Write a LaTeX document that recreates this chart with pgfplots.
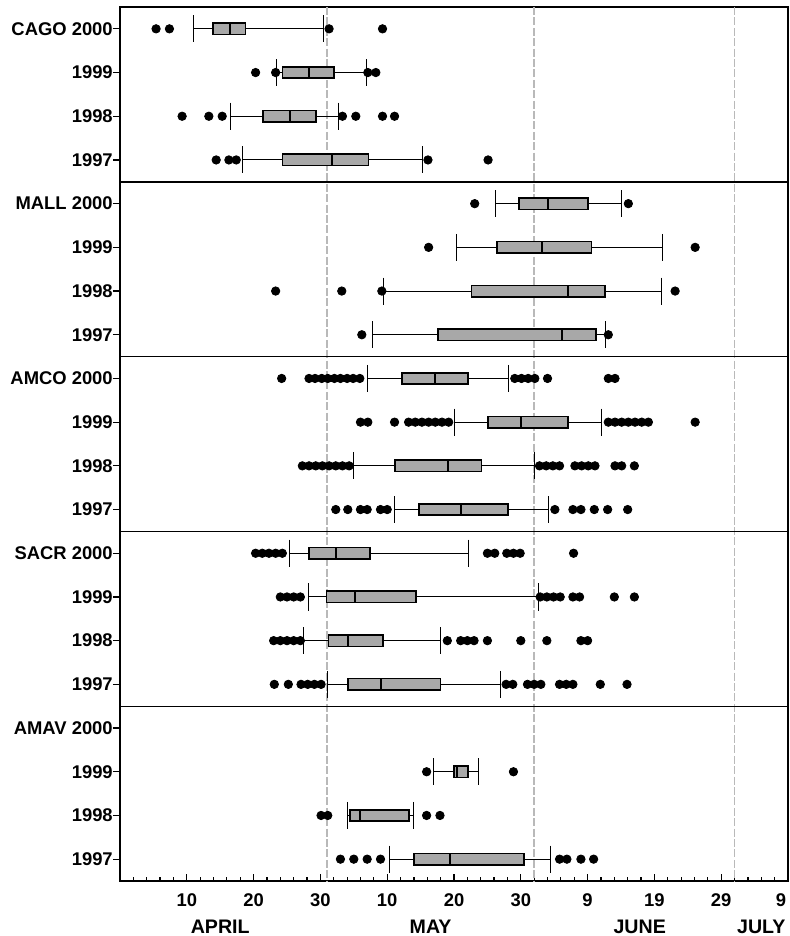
\documentclass[border=0pt]{standalone}
\usepackage{fontspec}
\setmainfont{Liberation Sans}
\usepackage{pgfplots}
\pgfplotsset{compat=1.18}
\usepgfplotslibrary{statistics}

\pgfplotsset{
  bxs/.style={black, mark=*, mark size=2.1pt,
    mark options={fill=black, draw=black, solid},
    boxplot/draw direction=x,
    boxplot/box extend=0.26,
    boxplot/whisker extend=0.62,
    boxplot/every box/.style={draw=black, fill=gray!68, line width=0.8pt},
    boxplot/every whisker/.style={black, line width=0.5pt},
    boxplot/every median/.style={black, line width=1pt}}
}
\newcommand{\bx}[7]{\addplot[bxs, boxplot prepared={draw position=#1, lower whisker=#2, lower quartile=#3, median=#4, upper quartile=#5, upper whisker=#6}] coordinates {#7};}

\begin{document}
\begin{tikzpicture}
\begin{axis}[
  scale only axis, width=334pt, height=437pt,
  xmin=0, xmax=100, ymin=-0.5, ymax=19.5, y dir=reverse,
  axis line style={line width=0.75pt},
  xtick={10,20,...,90},
  xticklabels={10,20,30,10,20,30,9,19,29},
  extra x ticks={100},
  extra x tick labels={9},
  extra x tick style={xticklabel style={xshift=-3.5pt}},
  minor xtick={0,2,...,100},
  ytick={0,...,19},
  yticklabels={CAGO 2000,1999,1998,1997,MALL 2000,1999,1998,1997,AMCO 2000,1999,1998,1997,SACR 2000,1999,1998,1997,AMAV 2000,1999,1998,1997},
  xtick pos=left, ytick pos=left,
  xtick align=inside, ytick align=outside,
  major tick length=3.6pt, minor tick length=2.1pt,
  tick style={black, line width=0.6pt},
  tick label style={font=\fontsize{9.2}{10}\selectfont\bfseries},
  xticklabel style={yshift=-3pt},
  yticklabel style={xshift=3.5pt},
  clip=false,
]
% dashed month boundaries
\draw[gray!55, line width=0.9pt, dash pattern=on 4pt off 1.2pt] (axis cs:31,-0.5) -- (axis cs:31,19.5);
\draw[gray!55, line width=0.9pt, dash pattern=on 4pt off 1.2pt] (axis cs:62,-0.5) -- (axis cs:62,19.5);
\draw[gray!55, line width=0.9pt, dash pattern=on 4pt off 1.2pt] (axis cs:92,-0.5) -- (axis cs:92,19.5);
% group separators
\draw[line width=0.7pt] (axis cs:0,3.5) -- (axis cs:100,3.5);
\draw[line width=0.7pt] (axis cs:0,7.5) -- (axis cs:100,7.5);
\draw[line width=0.7pt] (axis cs:0,11.5) -- (axis cs:100,11.5);
\draw[line width=0.7pt] (axis cs:0,15.5) -- (axis cs:100,15.5);

% CAGO
\bx{0}{11.0}{13.9}{16.4}{18.8}{30.4}{(0,5.4) (0,7.4) (0,31.3) (0,39.3)}
\bx{1}{23.5}{24.3}{28.3}{32.0}{36.9}{(0,20.3) (0,23.3) (0,37.1) (0,38.3)}
\bx{2}{16.5}{21.4}{25.4}{29.3}{32.7}{(0,9.3) (0,13.3) (0,15.3) (0,33.3) (0,35.3) (0,39.3) (0,41.1)}
\bx{3}{18.3}{24.3}{31.8}{37.2}{45.3}{(0,14.4) (0,16.3) (0,17.4) (0,46.1) (0,55.1)}
% MALL
\bx{4}{56.2}{59.7}{64.1}{70.1}{75.1}{(0,53.1) (0,76.1)}
\bx{5}{50.3}{56.4}{63.2}{70.6}{81.2}{(0,46.2) (0,86.1)}
\bx{6}{39.5}{52.6}{67.1}{72.6}{81.1}{(0,23.3) (0,33.2) (0,39.2) (0,83.1)}
\bx{7}{37.8}{47.6}{66.1}{71.3}{72.7}{(0,36.2) (0,73.1)}
% AMCO
\bx{8}{37.1}{42.2}{47.1}{52.1}{58.1}{(0,24.2) (0,28.3) (0,29.2) (0,30.2) (0,31.1) (0,32.1) (0,33.0) (0,34.0) (0,34.9) (0,35.9) (0,59.1) (0,60.1) (0,61.1) (0,62.1) (0,64.0) (0,73.1) (0,74.1)}
\bx{9}{50.1}{55.1}{60.0}{67.1}{72.1}{(0,36.0) (0,37.1) (0,41.1) (0,43.2) (0,44.2) (0,45.2) (0,46.2) (0,47.2) (0,48.2) (0,49.2) (0,73.1) (0,74.1) (0,75.1) (0,76.1) (0,77.1) (0,78.1) (0,79.1) (0,86.1)}
\bx{10}{34.9}{41.2}{49.1}{54.1}{62.1}{(0,27.3) (0,28.3) (0,29.3) (0,30.3) (0,31.3) (0,32.3) (0,33.3) (0,34.3) (0,62.8) (0,63.8) (0,64.8) (0,65.8) (0,68.1) (0,69.1) (0,70.1) (0,71.1) (0,74.1) (0,75.1) (0,77.0)}
\bx{11}{41.1}{44.8}{51.1}{58.1}{64.1}{(0,32.3) (0,34.1) (0,36.0) (0,37.0) (0,39.0) (0,40.0) (0,65.1) (0,67.8) (0,69.0) (0,71.0) (0,73.0) (0,76.0)}
% SACR
\bx{12}{25.3}{28.3}{32.3}{37.4}{52.1}{(0,20.3) (0,21.3) (0,22.3) (0,23.3) (0,24.3) (0,55.0) (0,56.1) (0,57.9) (0,58.9) (0,59.9) (0,67.9)}
\bx{13}{28.2}{30.9}{35.2}{44.3}{62.7}{(0,24.0) (0,25.0) (0,26.0) (0,27.0) (0,62.9) (0,63.9) (0,64.9) (0,65.9) (0,67.8) (0,68.8) (0,74.0) (0,77.0)}
\bx{14}{27.5}{31.2}{34.1}{39.4}{48.0}{(0,23.0) (0,24.0) (0,25.0) (0,26.0) (0,27.0) (0,49.0) (0,51.0) (0,52.0) (0,53.0) (0,55.0) (0,60.0) (0,63.9) (0,69.0) (0,70.0)}
\bx{15}{31.1}{34.1}{39.0}{48.0}{57.0}{(0,23.1) (0,25.2) (0,27.1) (0,28.1) (0,29.1) (0,30.1) (0,57.8) (0,58.8) (0,61.0) (0,62.0) (0,63.0) (0,65.8) (0,66.8) (0,67.8) (0,71.9) (0,75.9)}
% AMAV
\bx{17}{47.0}{50.0}{50.4}{52.1}{53.6}{(0,45.9) (0,58.9)}
\bx{18}{34.1}{34.4}{36.0}{43.3}{44.0}{(0,30.1) (0,31.1) (0,45.9) (0,47.9)}
\bx{19}{40.4}{44.0}{49.4}{60.5}{64.5}{(0,33.0) (0,35.0) (0,37.0) (0,39.0) (0,65.8) (0,66.9) (0,69.0) (0,70.9)}

% month labels
\node[font=\fontsize{9.8}{11}\selectfont\bfseries, yshift=-22.75pt] at (axis cs:15,19.5) {APRIL};
\node[font=\fontsize{9.8}{11}\selectfont\bfseries, yshift=-22.75pt] at (axis cs:46.5,19.5) {MAY};
\node[font=\fontsize{9.8}{11}\selectfont\bfseries, yshift=-22.75pt] at (axis cs:77.8,19.5) {JUNE};
\node[font=\fontsize{9.8}{11}\selectfont\bfseries, yshift=-22.75pt] at (axis cs:96.0,19.5) {JULY};

\coordinate (BL) at (axis cs:0,19.5);
\coordinate (TR) at (axis cs:100,-0.5);
\end{axis}
\pgfresetboundingbox
\path ([shift={(-60pt,-27.5pt)}]BL) rectangle ([shift={(1pt,3.5pt)}]TR);
\end{tikzpicture}
\end{document}
